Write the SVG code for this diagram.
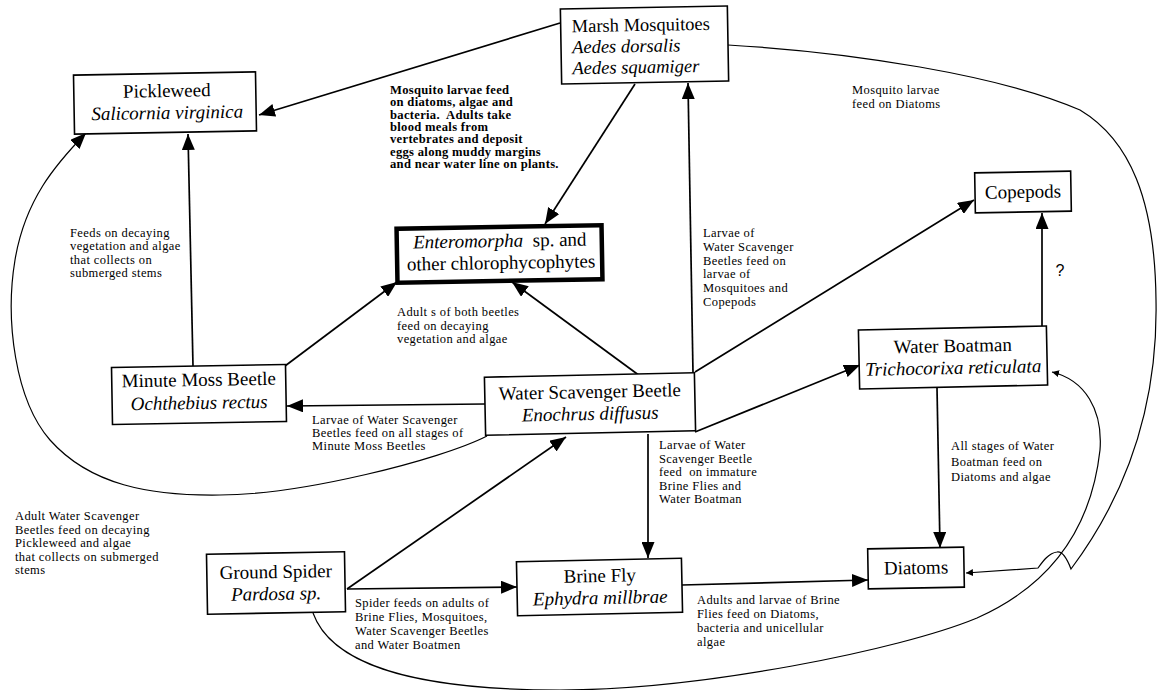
<svg xmlns="http://www.w3.org/2000/svg" width="1163" height="690" viewBox="0 0 1163 690">
<style>
.box{fill:#fff;stroke:#000;stroke-width:1.6}
.thick{fill:#fff;stroke:#000;stroke-width:4.5}
.t{font-family:"Liberation Serif","Times New Roman",serif;font-size:19px;fill:#000;text-anchor:middle}
.tl{font-family:"Liberation Serif","Times New Roman",serif;font-size:18.5px;fill:#000}
.i{font-style:italic}
.a{font-family:"Liberation Serif","Times New Roman",serif;font-size:12.5px;letter-spacing:0.4px;fill:#000}
.ab{font-family:"Liberation Serif","Times New Roman",serif;font-size:12.6px;font-weight:bold;letter-spacing:0.3px;fill:#000}
.q{font-family:"Liberation Sans",Arial,sans-serif;font-size:16px;fill:#000;text-anchor:middle}
.c{fill:none;stroke:#000;stroke-width:1.7}
.cc{fill:none;stroke:#000;stroke-width:1.2}
</style>
<defs>
<marker id="ar" markerUnits="userSpaceOnUse" markerWidth="17" markerHeight="13" refX="16" refY="6.5" orient="auto" viewBox="0 0 17 13">
<path d="M0,0 L16,6.5 L0,13 z" fill="#000"/>
</marker>
<marker id="sm" markerUnits="userSpaceOnUse" markerWidth="8" markerHeight="7" refX="7" refY="3.5" orient="auto" viewBox="0 0 8 7">
<path d="M0,0 L7,3.5 L0,7 z" fill="#000"/>
</marker>
</defs>
<rect width="1163" height="690" fill="#fff"/>

<g id="connectors">
<path class="c" d="M560,23 L259,115" marker-end="url(#ar)"/>
<path class="c" d="M635,84 L545,224" marker-end="url(#ar)"/>
<path class="c" d="M693,373 L688,83" marker-end="url(#ar)"/>
<path class="c" d="M695,372 L974,200" marker-end="url(#ar)"/>
<path class="c" d="M640,376 L512,282" marker-end="url(#ar)"/>
<path class="c" d="M285,366 L397,282" marker-end="url(#ar)"/>
<path class="c" d="M193,366 L188,134" marker-end="url(#ar)"/>
<path class="c" d="M485,404 L287,406" marker-end="url(#ar)"/>
<path class="c" d="M695,432 L860,365" marker-end="url(#ar)"/>
<path class="c" d="M1042,327 L1042,213" marker-end="url(#ar)"/>
<path class="c" d="M937,388 L940,548" marker-end="url(#ar)"/>
<path class="c" d="M648,434 L648,558" marker-end="url(#ar)"/>
<path class="c" d="M347,589 L566,437" marker-end="url(#ar)"/>
<path class="c" d="M347,589 L517,587" marker-end="url(#ar)"/>
<path class="c" d="M682,585 L868,580" marker-end="url(#ar)"/>
<path class="cc" d="M487,436 C440,460 300,495 220,495 C150,496 90,485 50,440 C15,400 5,320 15,260 C25,200 55,165 86,133" marker-end="url(#ar)"/>
<path class="cc" d="M728,45 C850,52 1000,75 1080,110 C1130,140 1155,200 1156,300 C1158,400 1130,490 1071,569 C1066,556 1062,551 1057,552 C1049,553 1043,561 1038,568 L966,573" marker-end="url(#sm)"/>
<path class="cc" d="M313,613 C330,660 400,690 560,690 C700,690 900,650 977,618 C1040,590 1090,540 1100,450 C1103,410 1085,380 1052,372" marker-end="url(#sm)"/>
</g>

<g id="pickleweed" transform="rotate(-1 165 103)">
<rect class="box" x="74" y="73.5" width="182" height="59"/>
<text class="t" x="167" y="97">Pickleweed</text>
<text class="t i" x="167" y="119">Salicornia virginica</text>
</g>

<g id="marsh-mosquitoes" transform="rotate(-1 644 45)">
<rect class="box" x="561" y="7.5" width="167" height="75"/>
<text class="tl" x="572" y="31">Marsh Mosquitoes</text>
<text class="tl i" x="572" y="52">Aedes dorsalis</text>
<text class="tl i" x="572" y="73">Aedes squamiger</text>
</g>

<g id="enteromorpha" transform="rotate(-1 500 254)">
<rect class="thick" x="397" y="227" width="205" height="54"/>
<text class="t" x="500" y="247" xml:space="preserve"><tspan class="i">Enteromorpha</tspan>  sp. and</text>
<text class="t" x="501" y="269">other chlorophycophytes</text>
</g>

<g id="copepods" transform="rotate(-1 1023 192)">
<rect class="box" x="975" y="172" width="96" height="40"/>
<text class="t" x="1023" y="198">Copepods</text>
</g>

<g id="minute-moss-beetle" transform="rotate(-1 199 395)">
<rect class="box" x="112" y="366" width="174" height="57"/>
<text class="t" x="199" y="386">Minute Moss Beetle</text>
<text class="t i" x="199" y="409">Ochthebius rectus</text>
</g>

<g id="water-scavenger-beetle" transform="rotate(-1.2 590 404)">
<rect class="box" x="485" y="375" width="210" height="58"/>
<text class="t" x="590" y="398">Water Scavenger Beetle</text>
<text class="t i" x="590" y="420">Enochrus diffusus</text>
</g>

<g id="water-boatman" transform="rotate(-1.2 953 357)">
<rect class="box" x="859" y="328" width="188" height="59"/>
<text class="t" x="953" y="352">Water Boatman</text>
<text class="t i" x="953" y="374">Trichocorixa reticulata</text>
</g>

<g id="ground-spider" transform="rotate(-1 276 583)">
<rect class="box" x="207" y="553" width="138" height="60"/>
<text class="t" x="276" y="578">Ground Spider</text>
<text class="t i" x="276" y="600">Pardosa sp.</text>
</g>

<g id="brine-fly" transform="rotate(-1.2 600 587)">
<rect class="box" x="517" y="560" width="165" height="54"/>
<text class="t" x="600" y="582">Brine Fly</text>
<text class="t i" x="600" y="604">Ephydra millbrae</text>
</g>

<g id="diatoms" transform="rotate(-1 916 568)">
<rect class="box" x="868" y="548" width="96" height="40"/>
<text class="t" x="916" y="574">Diatoms</text>
</g>

<g id="labels">
<text class="ab" x="390" y="94">Mosquito larvae feed</text>
<text class="ab" x="390" y="106.3">on diatoms, algae and</text>
<text class="ab" x="390" y="118.6" xml:space="preserve">bacteria.  Adults take</text>
<text class="ab" x="390" y="130.9">blood meals from</text>
<text class="ab" x="390" y="143.2">vertebrates and deposit</text>
<text class="ab" x="390" y="155.5">eggs along muddy margins</text>
<text class="ab" x="390" y="167.8">and near water line on plants.</text>

<text class="a" x="852" y="94">Mosquito larvae</text>
<text class="a" x="852" y="108">feed on Diatoms</text>

<text class="a" x="70" y="237">Feeds on decaying</text>
<text class="a" x="70" y="250.3">vegetation and algae</text>
<text class="a" x="70" y="263.6">that collects on</text>
<text class="a" x="70" y="276.9">submerged stems</text>

<text class="a" x="397" y="316">Adult s of both beetles</text>
<text class="a" x="397" y="329.5">feed on decaying</text>
<text class="a" x="397" y="343">vegetation and algae</text>

<text class="a" x="703" y="237">Larvae of</text>
<text class="a" x="703" y="250.8">Water Scavenger</text>
<text class="a" x="703" y="264.6">Beetles feed on</text>
<text class="a" x="703" y="278.4">larvae of</text>
<text class="a" x="703" y="292.2">Mosquitoes and</text>
<text class="a" x="703" y="306">Copepods</text>

<text class="q" x="1060" y="276">?</text>

<text class="a" x="312" y="424">Larvae of Water Scavenger</text>
<text class="a" x="312" y="437">Beetles feed on all stages of</text>
<text class="a" x="312" y="450">Minute Moss Beetles</text>

<text class="a" x="659" y="449">Larvae of Water</text>
<text class="a" x="659" y="462.5">Scavenger Beetle</text>
<text class="a" x="659" y="476" xml:space="preserve">feed  on immature</text>
<text class="a" x="659" y="489.5">Brine Flies and</text>
<text class="a" x="659" y="503">Water Boatman</text>

<text class="a" x="951" y="450">All stages of Water</text>
<text class="a" x="951" y="465.5">Boatman feed on</text>
<text class="a" x="951" y="481">Diatoms and algae</text>

<text class="a" x="15" y="520">Adult Water Scavenger</text>
<text class="a" x="15" y="533.5">Beetles feed on decaying</text>
<text class="a" x="15" y="547">Pickleweed and algae</text>
<text class="a" x="15" y="560.5">that collects on submerged</text>
<text class="a" x="15" y="574">stems</text>

<text class="a" x="355" y="607">Spider feeds on adults of</text>
<text class="a" x="355" y="621">Brine Flies, Mosquitoes,</text>
<text class="a" x="355" y="635">Water Scavenger Beetles</text>
<text class="a" x="355" y="649">and Water Boatmen</text>

<text class="a" x="697" y="604">Adults and larvae of Brine</text>
<text class="a" x="697" y="618">Flies feed on Diatoms,</text>
<text class="a" x="697" y="632">bacteria and unicellular</text>
<text class="a" x="697" y="646">algae</text>
</g>
</svg>
